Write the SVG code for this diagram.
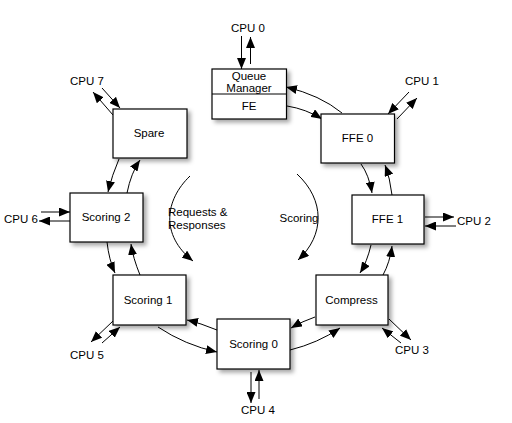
<svg xmlns="http://www.w3.org/2000/svg" width="512" height="423" viewBox="0 0 512 423">
<defs>
<marker id="ah" markerUnits="userSpaceOnUse" markerWidth="11" markerHeight="9" refX="11" refY="4.5" orient="auto">
<path d="M0,0 L11,4.5 L0,9 z" fill="#000"/>
</marker>
<filter id="sh" x="-20%" y="-20%" width="150%" height="150%">
<feDropShadow dx="3" dy="3" stdDeviation="2" flood-color="#000" flood-opacity="0.35"/>
</filter>
<style>
.box{fill:#fff;stroke:#000;stroke-width:1.2;filter:url(#sh)}
.ln{fill:none;stroke:#000;stroke-width:1}
.ar{fill:none;stroke:#000;stroke-width:1;marker-end:url(#ah)}
text{font-family:"Liberation Sans",Arial,sans-serif;font-size:11.5px;fill:#000}
.c{text-anchor:middle}
</style>
</defs>
<rect width="512" height="423" fill="#fff"/>
<g id="connectors">
<path class="ar" d="M241.5,36 L241.5,69"/>
<path class="ar" d="M250.5,64 L250.5,37"/>
<path class="ar" d="M287,106 Q306,109 322,119"/>
<path class="ar" d="M342,113 Q320,95 286,87"/>
<path class="ar" d="M409,92 L388,114"/>
<path class="ar" d="M397,119 L417,98"/>
<path class="ar" d="M361,164 Q369,175 372,193"/>
<path class="ar" d="M392,195 Q390,178 385,165"/>
<path class="ar" d="M425,217 L454,217"/>
<path class="ar" d="M456,226 L425,226"/>
<path class="ar" d="M371,245 Q367,262 360,273"/>
<path class="ar" d="M383,275 Q390,262 392,246"/>
<path class="ar" d="M389,319 L411,340"/>
<path class="ar" d="M401,343 L382,328"/>
<path class="ar" d="M315,317 Q303,321 291,328"/>
<path class="ar" d="M290,350 Q318,343 340,328"/>
<path class="ar" d="M251,372 L251,403"/>
<path class="ar" d="M259,399 L259,370"/>
<path class="ar" d="M217,330 Q200,323 187,320"/>
<path class="ar" d="M158,327 Q185,345 217,352"/>
<path class="ar" d="M113,321 L91,342"/>
<path class="ar" d="M102,343 L120,327"/>
<path class="ar" d="M140,275 Q133,258 131,244"/>
<path class="ar" d="M107,242 Q109,260 115,273"/>
<path class="ar" d="M41,212 L70,212"/>
<path class="ar" d="M70,221 L39,221"/>
<path class="ar" d="M127,193 Q131,173 140,160"/>
<path class="ar" d="M119,159 Q112,175 108,192"/>
<path class="ar" d="M102,88 L120,108"/>
<path class="ar" d="M113,115 L93,92"/>
<path class="ar" d="M190,176 C165,200 160,235 193,261"/>
<path class="ar" d="M297,174 C325,200 325,235 298,260"/>
</g>
<g id="qm">
<rect class="box" x="212" y="69" width="74.5" height="50"/>
<line class="ln" x1="212" y1="94" x2="286.5" y2="94"/>
<text class="c" x="249" y="80">Queue</text>
<text class="c" x="249" y="92">Manager</text>
<text class="c" x="249" y="110">FE</text>
</g>
<g id="ffe0">
<rect class="box" x="321" y="114" width="73.5" height="49"/>
<text class="c" x="357.5" y="142">FFE 0</text>
</g>
<g id="ffe1">
<rect class="box" x="352" y="195" width="72" height="49"/>
<text class="c" x="387.5" y="223">FFE 1</text>
</g>
<g id="compress">
<rect class="box" x="316" y="275" width="72" height="50"/>
<text class="c" x="351.5" y="304">Compress</text>
</g>
<g id="scoring0">
<rect class="box" x="217" y="319" width="73" height="50"/>
<text class="c" x="253.5" y="348">Scoring 0</text>
</g>
<g id="scoring1">
<rect class="box" x="113" y="275" width="73" height="50"/>
<text class="c" x="148" y="304">Scoring 1</text>
</g>
<g id="scoring2">
<rect class="box" x="70" y="193" width="73" height="49"/>
<text class="c" x="106" y="221">Scoring 2</text>
</g>
<g id="spare">
<rect class="box" x="113" y="109" width="74" height="49"/>
<text class="c" x="149" y="137">Spare</text>
</g>
<g id="labels">
<text class="c" x="248" y="32">CPU 0</text>
<text class="c" x="422" y="85">CPU 1</text>
<text x="457" y="225">CPU 2</text>
<text class="c" x="412" y="354">CPU 3</text>
<text class="c" x="258" y="414">CPU 4</text>
<text class="c" x="87" y="359">CPU 5</text>
<text class="c" x="21" y="223">CPU 6</text>
<text class="c" x="87" y="85">CPU 7</text>
<text x="168" y="216">Requests &amp;</text>
<text x="168" y="229">Responses</text>
<text class="c" x="299" y="222">Scoring</text>
</g>
</svg>
